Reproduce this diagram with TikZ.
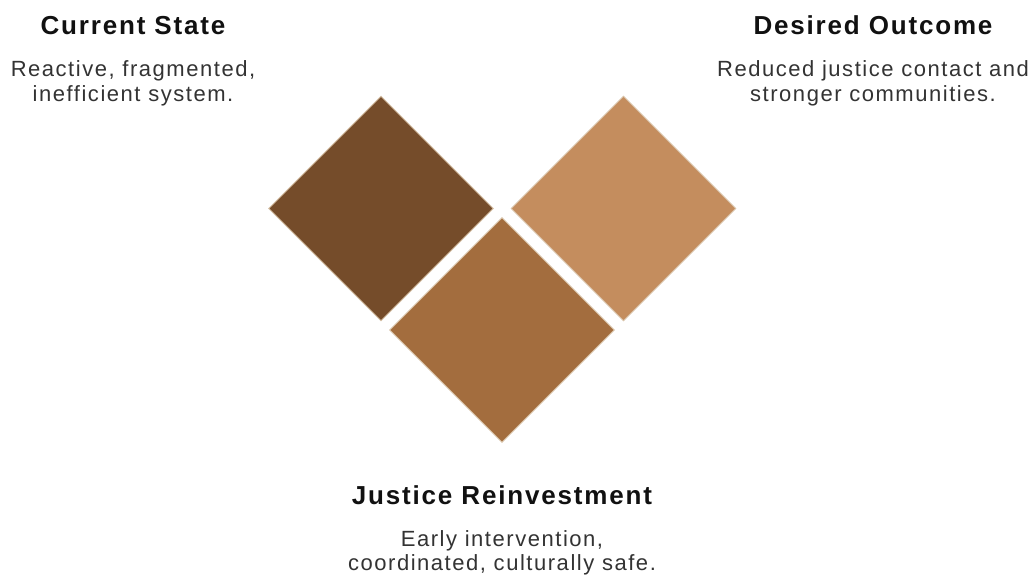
\documentclass[tikz,border=0pt]{standalone}
\usepackage{fontspec}
\setmainfont{Liberation Sans}
\newfontfamily\bodyface{Liberation Sans}[LetterSpace=7]
\newfontfamily\titleface{Liberation Sans}[LetterSpace=7]
\usetikzlibrary{shapes.geometric}
\definecolor{cdark}{HTML}{754C2A}
\definecolor{cmid}{HTML}{A36D3E}
\definecolor{clight}{HTML}{C48D5E}
\definecolor{cedge}{HTML}{D9C4AA}
\definecolor{ctitle}{HTML}{111111}
\definecolor{cbody}{HTML}{333333}
\tikzset{
  tile/.style={diamond, aspect=1, minimum width=225pt, minimum height=225pt, inner sep=0pt, draw=cedge, line width=0.9pt},
  title/.style={anchor=base, text=ctitle, font=\titleface\fontsize{26}{30}\selectfont\bfseries},
  body/.style={anchor=base, text=cbody, font=\bodyface\fontsize{22}{26}\selectfont, align=center}
}
\begin{document}
\begin{tikzpicture}[x=1pt,y=-1pt]
\useasboundingbox (0,0) rectangle (1034,583);
\fill[white] (0,0) rectangle (1034,583);
\node[tile, fill=cdark] (current) at (381,208.5) {};
\node[tile, fill=clight] (outcome) at (623.5,208.5) {};
\node[tile, fill=cmid] (reinvest) at (502,330) {};
\node[title] (t1) at (133,35) {Current State};
\node[body] (b1a) at (133,77) {Reactive, fragmented,};
\node[body] (b1b) at (133,101.5) {inefficient system.};
\node[title] (t2) at (873,35) {Desired Outcome};
\node[body] (b2a) at (873,77) {Reduced justice contact and};
\node[body] (b2b) at (873,101.5) {stronger communities.};
\node[title] (t3) at (502,504) {Justice Reinvestment};
\node[body] (b3a) at (502,546) {Early intervention,};
\node[body] (b3b) at (502,570.5) {coordinated, culturally safe.};
\end{tikzpicture}
\end{document}
